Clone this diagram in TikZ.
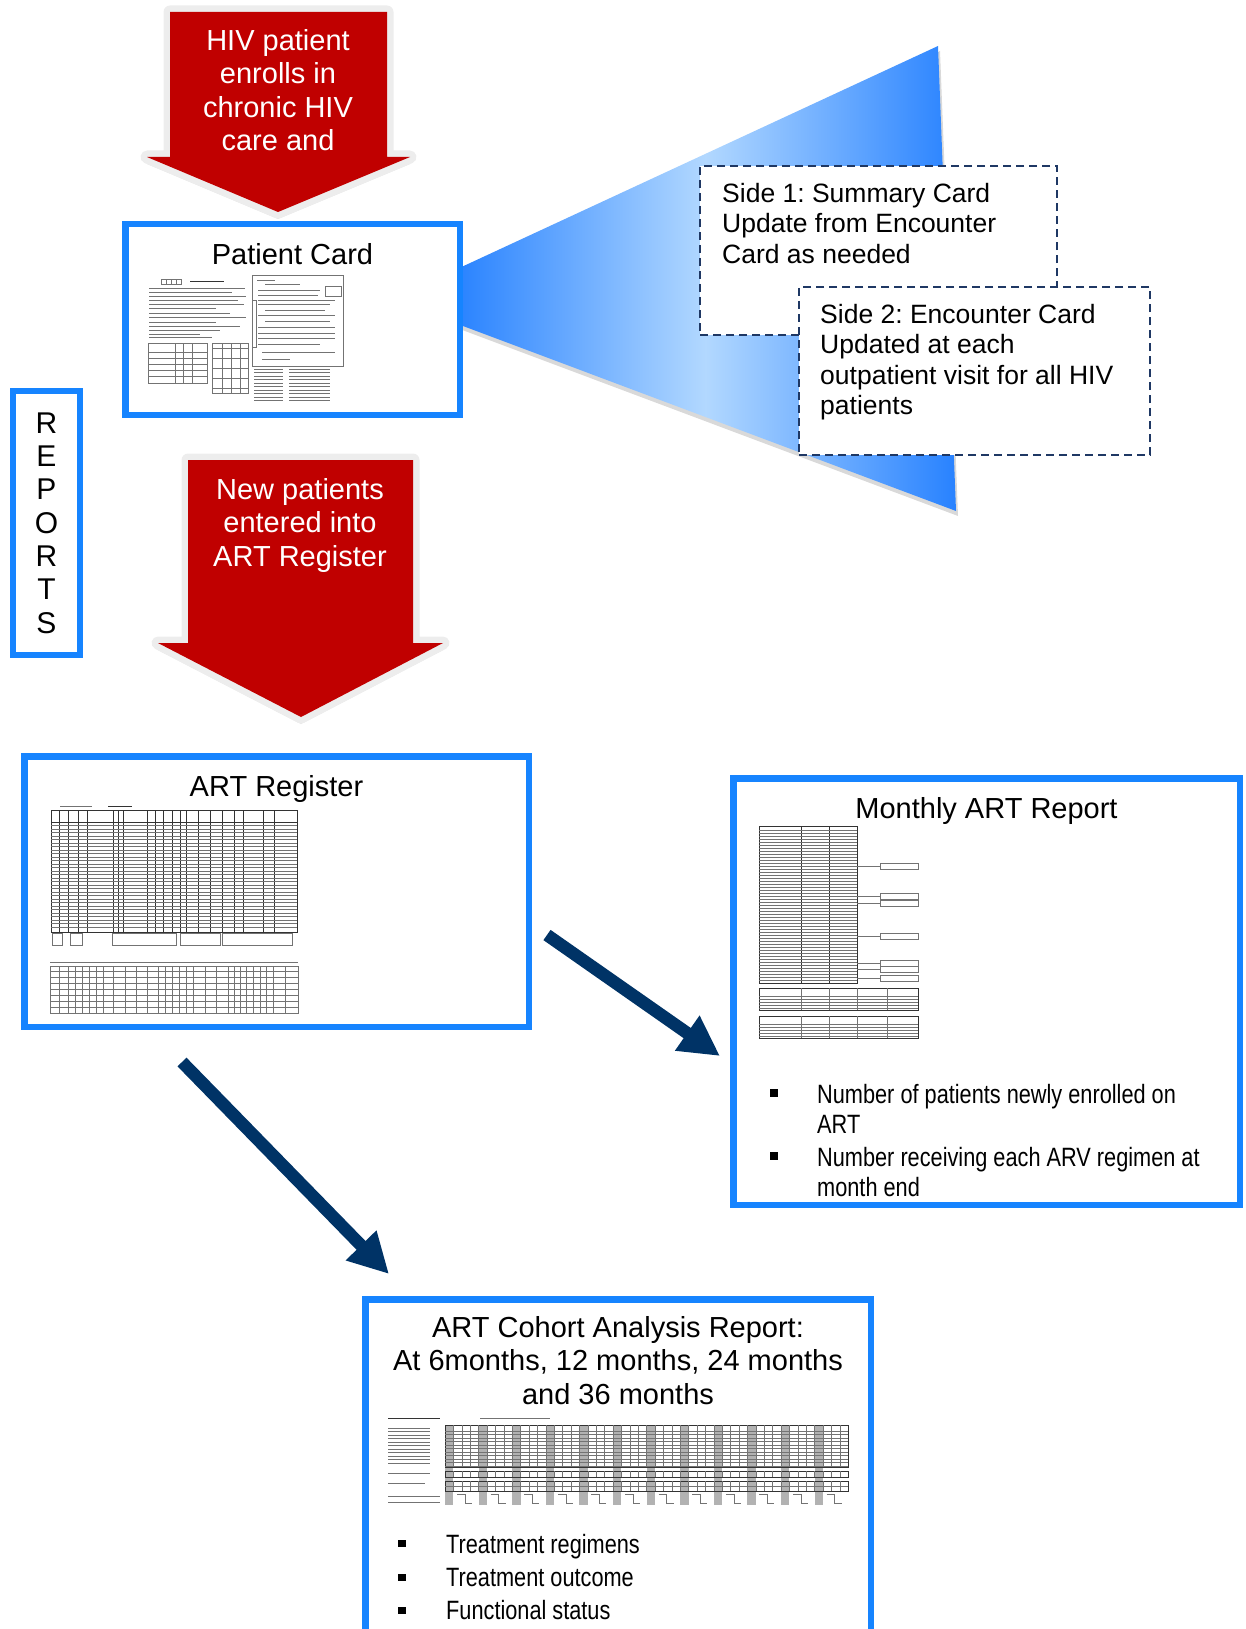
\documentclass[tikz,border=0pt]{standalone}
\usepackage{fontspec}
\setmainfont{Liberation Sans}
\newfontfamily\narrowfont{Liberation Sans}[FakeStretch=0.82]
\usetikzlibrary{arrows.meta,positioning,shadows}
\definecolor{arrowred}{RGB}{192,0,0}
\definecolor{boxblue}{RGB}{22,132,255}
\definecolor{fanblue}{RGB}{40,130,255}
\definecolor{fanlight}{RGB}{178,216,255}
\definecolor{darknavy}{RGB}{0,51,102}
\definecolor{dashnavy}{RGB}{31,56,100}
\newcommand{\cardfont}{\fontsize{29}{33.5}\selectfont}
\newcommand{\notefont}{\fontsize{26.5}{30.4}\selectfont}
\newcommand{\itemfont}{\narrowfont\fontsize{26.5}{30}\selectfont}
\frenchspacing

\begin{document}
\begin{tikzpicture}[
    x=1pt, y=-1pt,
    panel/.style={rectangle, draw=boxblue, line width=6.5pt, fill=white, inner sep=0pt, outer sep=0pt},
    sidenote/.style={rectangle, draw=dashnavy, dash pattern=on 8pt off 5pt, line width=2.5pt, fill=white, inner sep=0pt, outer sep=0pt},
    redarrow/.style={fill=arrowred, drop shadow={shadow xshift=0pt, shadow yshift=-7pt, opacity=0.22}, preaction={draw=black!7, line width=13pt, line join=round}},
    arrowtext/.style={text=white, font=\cardfont, align=center, inner sep=0pt, anchor=north},
    boxtitle/.style={font=\cardfont, align=center, inner sep=0pt},
    notetext/.style={font=\notefont, align=left, inner sep=0pt, anchor=north west},
    itemtext/.style={font=\itemfont, align=left, inner sep=0pt, anchor=north west},
    bullet/.style={rectangle, fill=black, minimum size=7.5pt, inner sep=0pt},
    navyarrow/.style={-{Triangle[length=40pt,width=40pt]}, darknavy, line width=12.5pt},
    formline/.style={black!55, line width=0.5pt},
    formdark/.style={black!80, line width=0.8pt}
  ]
  \useasboundingbox (0,0) rectangle (1245,1629);
  \clip (0,0) rectangle (1245,1629);

  % fan from the card to its two sides
  \path[left color=fanblue, right color=fanblue, middle color=fanlight,
    drop shadow={shadow xshift=2pt, shadow yshift=-5pt, opacity=0.3}]
    (455,270) -- (938,46) -- (956,511) -- (455,323) -- cycle;

  \node[panel, minimum width=334.5pt, minimum height=190.5pt] (card) at (292.5,319.5) {};
  \node[boxtitle, below=18.75pt of card.north] (cardtitle) {Patient Card};

  % red arrows
  \path[redarrow] (170,12) -- (387,12) -- (387,157) -- (410,157) -- (278,212) -- (147,157) -- (170,157) -- cycle;
  \node[arrowtext] (enrolltext) at (278,29) {HIV patient\\enrolls in\\chronic HIV\\care and};
  \path[redarrow] (188,460) -- (413,460) -- (413,643) -- (443,643) -- (301,717) -- (158,643) -- (188,643) -- cycle;
  \node[arrowtext] (newtext) at (300,478) {New patients\\entered into\\ART Register};

  \node[sidenote, minimum width=357pt, minimum height=169pt] (side1) at (878.5,250.5) {};
  \node[notetext, below right=17pt and 22pt of side1.north west] (side1text) {Side 1: Summary Card\\Update from Encounter\\Card as needed};
  \node[sidenote, minimum width=351pt, minimum height=168pt] (side2) at (974.5,371) {};
  \node[notetext, below right=17pt and 21pt of side2.north west] (side2text) {Side 2: Encounter Card\\Updated at each\\outpatient visit for all HIV\\patients};

  \node[panel, line width=6pt, minimum width=67pt, minimum height=264pt, font=\fontsize{30}{33.3}\selectfont, align=center] (reports) at (46.5,523) {R\\E\\P\\O\\R\\T\\S};

  \node[panel, minimum width=504.5pt, minimum height=270.5pt] (reg) at (276.5,891.5) {};
  \node[boxtitle, below=18.75pt of reg.north] (regtitle) {ART Register};
  \node[panel, minimum width=506.5pt, minimum height=426.5pt] (mon) at (986.5,991.5) {};
  \node[boxtitle, below=18.75pt of mon.north] (montitle) {Monthly ART Report};
  \node[panel, minimum width=505.5pt, minimum height=350pt] (cohort) at (618,1474.25) {};
  \node[boxtitle, below=17pt of cohort.north] (cohorttitle) {ART Cohort Analysis Report:\\At 6months, 12 months, 24 months\\and 36 months};

  \node[bullet] (monbul1) at (774,1093) {};
  \node[itemtext] (monitem1) at (817,1084.5) {Number of patients newly enrolled on\\ART};
  \node[bullet] (monbul2) at (774,1156) {};
  \node[itemtext] (monitem2) at (817,1147.5) {Number receiving each ARV regimen at\\month end};

  \node[bullet] (cohbul1) at (402,1543.5) {};
  \node[itemtext] (cohitem1) at (446,1534.5) {Treatment regimens};
  \node[bullet] (cohbul2) at (402,1577.5) {};
  \node[itemtext] (cohitem2) at (446,1568.5) {Treatment outcome};
  \node[bullet] (cohbul3) at (402,1610.5) {};
  \node[itemtext] (cohitem3) at (446,1600.5) {Functional status};

  % patient card form
  \begin{scope}[formline]
    \draw (161,279) rectangle (181,284);
    \foreach \x in {166,171,176} \draw (\x,279) -- (\x,284);
    \draw[formdark] (190,281.5) -- (224,281.5);
    \foreach \y/\e in {288/245, 292/232, 296/246, 300/238, 304/244, 308/216, 313/230, 317/246, 322/216, 326/240, 330/220, 334/200, 337/212}
      \draw (149,\y) -- (\e,\y);
    \draw (148,343) rectangle (207,383);
    \foreach \x in {175,183,192} \draw (\x,343) -- (\x,383);
    \foreach \y in {352,358,364,370,376} \draw (148,\y) -- (207,\y);
    \draw (212,343) rectangle (248,393);
    \foreach \x in {222,231,240} \draw (\x,343) -- (\x,393);
    \foreach \y in {348,358,368,378,388} \draw (212,\y) -- (248,\y);
    \draw (252,275) rectangle (343,366);
    \draw (252,300) rectangle (256,347);
    \draw (325,286) rectangle (341,296);
    \foreach \y/\s/\e in {280/257/275, 284/265/300, 290/258/320, 295/258/318, 300/258/335, 304/258/330, 310/265/325, 315/258/335, 321/265/330, 327/258/335, 333/258/335, 338/258/335, 344/258/320, 352/262/335, 359/262/290}
      \draw (\s,\y) -- (\e,\y);
    \foreach \y in {369,372.5,...,401} {
      \draw (254,\y) -- (283,\y);
      \draw (289,\y) -- (330,\y);
    }
  \end{scope}

  % register form
  \begin{scope}[formline]
    \draw[formdark] (108,806) -- (132,806);
    \draw (60,806) -- (92,806);
    \draw[formdark] (51,810) rectangle (297,932);
    \foreach \x in {59,68,78,87,113,118,123,147,155,163,172,180,186,198,210,222,234,243,263,274}
      \draw[formdark] (\x,810) -- (\x,932);
    \draw[formdark] (51,822) -- (297,822);
    \foreach \y in {825.5,829,...,930} \draw (51,\y) -- (297,\y);
    \foreach \a/\b in {52/62, 70/82, 112/176, 180/220, 222/292}
      \draw (\a,933) rectangle (\b,945);
    \draw (50,962) -- (298,962);
    \draw (50,966) rectangle (298,1013);
    \foreach \x in {59,68,75,82,89,96,103,113,125,136,147,158,165,172,179,186,193,205,216,228,234,240,246,253,260,266,273,285}
      \draw (\x,966) -- (\x,1013);
    \foreach \y in {971,977,...,1011} \draw (50,\y) -- (298,\y);
  \end{scope}

  % monthly form
  \begin{scope}[formline]
    \draw[formdark] (759,826) rectangle (857,983);
    \draw[formdark] (801,826) -- (801,983);
    \draw[formdark] (829,826) -- (829,983);
    \foreach \y in {830,833,...,981} \draw (759,\y) -- (857,\y);
    \foreach \y in {866,896,903,936,963,969,978} {
      \draw (857,\y) -- (880,\y);
      \draw (880,\y-3) rectangle (918,\y+3);
    }
    \draw[formdark] (759,988) rectangle (918,1010);
    \draw[formdark] (759,1016) rectangle (918,1038);
    \foreach \x in {801,829,857,887} {
      \draw (\x,988) -- (\x,1010);
      \draw (\x,1016) -- (\x,1038);
    }
    \foreach \y in {996,999,...,1008} \draw (759,\y) -- (918,\y);
    \foreach \y in {1024,1027,...,1036} \draw (759,\y) -- (918,\y);
  \end{scope}

  % cohort form
  \begin{scope}[formline]
    \draw[formdark] (388,1418) -- (440,1418);
    \draw (480,1418) -- (550,1418);
    \foreach \y in {1428,1431.5,...,1466} \draw (388,\y) -- (430,\y);
    \foreach \i in {0,...,11}
      \fill[black!30] (445+\i*33.6,1425) rectangle (453.4+\i*33.6,1505);
    \draw[formdark] (445,1425) rectangle (848,1467);
    \foreach \i in {1,...,47} \draw (445+\i*8.4,1425) -- (445+\i*8.4,1467);
    \foreach \y in {1431,1434.5,...,1466} \draw (445,\y) -- (848,\y);
    \draw[formdark] (445,1471) rectangle (848,1477);
    \draw[formdark] (445,1481) rectangle (848,1491);
    \draw (445,1486) -- (848,1486);
    \foreach \i in {1,...,47} {
      \draw (445+\i*8.4,1471) -- (445+\i*8.4,1477);
      \draw (445+\i*8.4,1481) -- (445+\i*8.4,1491);
    }
    \foreach \i in {0,...,11}
      \draw (457+\i*33.6,1494) -| (465+\i*33.6,1503) -- (472+\i*33.6,1503);
    \draw (388,1473) -- (430,1473);
    \draw (388,1483) -- (425,1483);
    \draw (388,1496) -- (440,1496);
    \draw (388,1502) -- (440,1502);
  \end{scope}

  % report arrows
  \draw[navyarrow] ([shift={(18.25,-91.75)}]reg.south east) -- ([shift={(-13.25,64.5)}]mon.west);
  \draw[navyarrow] ([shift={(-94.5,35.25)}]reg.south) -- ([shift={(23.75,-25.25)}]cohort.north west);

\end{tikzpicture}
\end{document}
